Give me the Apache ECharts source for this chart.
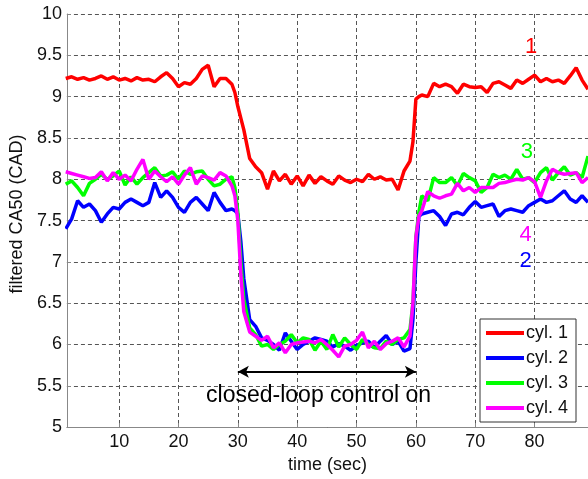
<!DOCTYPE html>
<html><head><meta charset="utf-8">
<script src="https://cdn.jsdelivr.net/npm/echarts@6/dist/echarts.min.js"></script>
<style>html,body{margin:0;padding:0;background:#fff}#c{width:588px;height:479px}</style>
</head><body><div id="c"></div>
<script>
const time = [1,2,3,4,5,6,7,8,9,10,11,12,13,14,15,16,17,18,19,20,21,22,23,24,25,26,27,28,29,
  29.5,30,30.5,
  31,32,33,34,35,36,37,38,39,40,41,42,43,44,45,46,47,48,49,50,51,52,53,54,55,56,57,58,59,
  59.5,60,60.5,
  61,62,63,64,65,66,67,68,69,70,71,72,73,74,75,76,77,78,79,80,81,82,83,84,85,86,87,88,89];
const cyl1 = [9.22,9.24,9.21,9.23,9.20,9.22,9.25,9.21,9.24,9.20,9.22,9.19,9.23,9.20,9.21,9.18,9.24,9.29,9.22,9.12,9.17,9.15,9.22,9.33,9.38,9.12,9.22,9.22,9.15,
  9.05,8.88,8.74,
  8.60,8.25,8.15,8.08,7.88,8.10,7.98,8.06,7.94,8.04,7.92,8.05,7.95,8.03,7.98,7.94,8.04,7.99,7.96,8.00,7.97,8.06,8.00,8.03,7.99,8.00,7.87,8.10,8.22,
  8.45,8.97,9.00,
  9.02,9.00,9.16,9.12,9.15,9.12,9.04,9.15,9.12,9.11,9.12,9.05,9.16,9.18,9.14,9.10,9.20,9.16,9.21,9.26,9.18,9.22,9.18,9.20,9.16,9.25,9.35,9.20,9.09];
const cyl2 = [7.40,7.52,7.74,7.66,7.70,7.62,7.48,7.58,7.66,7.64,7.72,7.76,7.72,7.68,7.72,7.96,7.78,7.86,7.78,7.66,7.60,7.72,7.78,7.70,7.62,7.84,7.72,7.62,7.64,
  7.62,7.58,7.25,
  6.80,6.30,6.22,6.08,6.05,6.00,5.93,6.14,6.04,5.94,6.00,6.04,6.08,6.06,6.04,5.97,6.01,5.98,5.93,5.99,6.02,6.04,5.96,6.04,6.11,6.00,6.04,5.92,5.95,
  6.30,7.00,7.55,
  7.58,7.60,7.62,7.55,7.44,7.58,7.60,7.57,7.66,7.73,7.66,7.68,7.70,7.55,7.62,7.64,7.62,7.60,7.68,7.72,7.76,7.72,7.74,7.80,7.86,7.76,7.72,7.80,7.72];
const cyl3 = [7.94,7.98,7.90,7.80,7.95,8.00,8.06,8.00,8.04,8.10,7.93,8.03,7.94,8.02,8.08,8.14,8.04,8.05,8.09,8.00,8.10,8.06,8.09,8.10,8.00,7.92,7.94,8.00,8.03,
  7.90,7.60,7.00,
  6.55,6.20,6.12,5.98,6.00,5.94,6.00,6.04,6.12,6.02,6.08,6.06,5.93,6.04,5.94,6.12,5.97,6.08,6.00,5.94,6.06,6.00,5.96,5.95,6.04,6.00,6.06,6.08,6.18,
  6.50,7.30,7.60,
  7.80,7.74,8.02,7.96,7.96,8.02,7.92,8.07,8.02,7.98,7.84,7.90,8.06,8.02,8.05,8.00,8.12,8.00,8.02,7.96,8.08,8.14,7.99,8.08,8.15,8.05,8.08,8.02,8.28];
const cyl4 = [8.09,8.07,8.05,8.03,8.01,8.02,8.09,7.98,8.08,8.00,8.05,7.98,8.12,8.24,8.00,8.10,8.03,7.97,8.03,7.94,8.05,8.14,7.94,8.04,8.02,7.99,8.08,8.04,7.92,
  7.80,7.50,6.85,
  6.40,6.15,6.10,6.05,6.10,5.96,6.02,5.90,6.00,6.02,6.03,6.04,6.02,6.06,6.00,5.93,5.85,5.98,6.00,6.05,6.15,5.96,6.04,5.94,6.01,6.04,6.08,5.97,6.10,
  6.50,7.30,7.55,
  7.62,7.85,7.80,7.77,7.80,7.82,7.95,7.86,7.90,7.84,7.90,7.90,7.90,7.95,7.96,7.98,8.00,7.99,8.02,7.97,7.78,7.98,8.12,8.08,8.06,8.07,8.08,7.96,8.02];

const seriesNames = ['cyl. 1','cyl. 2','cyl. 3','cyl. 4'];
const seriesColors = ['#ff0000','#0000ff','#00ff00','#ff00ff'];
const xTicks = [10,20,30,40,50,60,70,80];
const xRange = [1.2, 89];
const yRange = [5, 10];
const yStep = 0.5;

// curve labels
const annoText = ['1','3','4','2'];
const annoX = [79.4, 78.7, 78.5, 78.5];
const annoY = [9.60, 8.33, 7.33, 7.01];
// closed-loop arrow
const arrowX = [30, 60];
const arrowY = 5.67;
const arrowText = 'closed-loop control on';
const arrowTextPos = [43.6, 5.38];

const FONT = '"Liberation Sans", Arial, Helvetica, sans-serif';
const chart = echarts.init(document.getElementById('c'));
const all = [cyl1, cyl2, cyl3, cyl4];
const series = all.map((arr, k) => ({
  name: seriesNames[k], type: 'line', symbol: 'none', showSymbol: false,
  data: time.map((t, i) => [t, arr[i]]),
  lineStyle: { width: 3.5, color: seriesColors[k] }, itemStyle: { color: seriesColors[k] },
  z: 2 + k, animation: false
}));
series[0].markLine = {
  silent: true, symbol: ['arrow','arrow'], symbolSize: [9, 11],
  label: { show: false },
  lineStyle: { color: '#000', width: 2, type: 'solid' },
  itemStyle: { color: '#000' },
  data: [[{ coord: [arrowX[0], arrowY] }, { coord: [arrowX[1], arrowY] }]],
  animation: false
};
chart.setOption({
  animation: false,
  backgroundColor: '#fff',
  grid: { left: 62, right: 0, top: 14, bottom: 49 },
  xAxis: {
    type: 'value', min: xRange[0], max: xRange[1],
    name: 'time (sec)', nameLocation: 'middle', nameGap: 27,
    nameTextStyle: { fontSize: 18, color: '#111', fontFamily: FONT },
    axisLine: { show: true, lineStyle: { color: '#888', width: 1 } },
    axisTick: { show: true, inside: true, length: 4, customValues: xTicks, lineStyle: { color: '#888' } },
    axisLabel: { customValues: xTicks, fontSize: 18, color: '#111', fontFamily: FONT, margin: 6 },
    splitLine: { show: true, lineStyle: { color: '#555', type: [4, 3], width: 1 } }
  },
  yAxis: {
    type: 'value', min: yRange[0], max: yRange[1], interval: yStep,
    name: 'filtered CA50 (CAD)', nameLocation: 'middle', nameGap: 38,
    nameTextStyle: { fontSize: 18, color: '#111', fontFamily: FONT, padding: [0,0,0,13] },
    axisLine: { show: true, lineStyle: { color: '#888', width: 1 } },
    axisTick: { show: true, inside: true, length: 4, lineStyle: { color: '#888' } },
    axisLabel: { fontSize: 18, color: '#111', fontFamily: FONT, margin: 5, formatter: v => String(v) },
    splitLine: { show: true, lineStyle: { color: '#555', type: [4, 3], width: 1 } }
  },
  legend: {
    data: seriesNames, orient: 'vertical', left: 480, top: 319,
    icon: 'rect', itemWidth: 38, itemHeight: 4, itemGap: 7,
    padding: [5, 8, 5, 6],
    backgroundColor: '#fff', borderColor: '#333', borderWidth: 1, borderRadius: 0,
    textStyle: { fontSize: 18, color: '#111', fontFamily: FONT, lineHeight: 18, padding: [0,0,0,-3] }
  },
  series: series
});
const g = [];
annoText.forEach((s, k) => {
  const p = chart.convertToPixel({ gridIndex: 0 }, [annoX[k], annoY[k]]);
  g.push({ type: 'text', x: p[0], y: p[1], z: 20,
    style: { text: s, fill: seriesColors[[0,2,3,1][k]], font: '22px ' + FONT, textAlign: 'center', textVerticalAlign: 'middle' } });
});
const tp = chart.convertToPixel({ gridIndex: 0 }, arrowTextPos);
g.push({ type: 'text', x: tp[0], y: tp[1], z: 20,
  style: { text: arrowText, fill: '#000', font: '23px ' + FONT, textAlign: 'center', textVerticalAlign: 'middle' } });
chart.setOption({ graphic: g });
</script></body></html>
